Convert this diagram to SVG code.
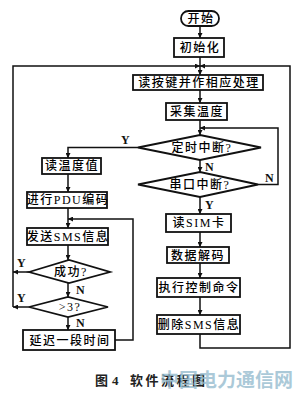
<svg xmlns="http://www.w3.org/2000/svg" width="300" height="397" viewBox="0 0 300 397">
<defs>
<marker id="a" viewBox="0 0 10 10" refX="10" refY="5" markerWidth="5" markerHeight="5" orient="auto" markerUnits="userSpaceOnUse">
<path d="M0,0 L10,5 L0,10 z" fill="#111"/>
</marker>
<style>
.b{fill:#fff;stroke:#111;stroke-width:1.8}
.t{font-family:"Liberation Serif","Noto Sans CJK SC",serif;font-size:12px;font-weight:500;letter-spacing:1.5px;text-anchor:middle;fill:#000}
.l{font-family:"Liberation Serif",serif;font-size:12px;font-weight:bold;fill:#111}
.c{fill:none;stroke:#111;stroke-width:1.5}
.ar{marker-end:url(#a)}
.cap{font-family:"Liberation Serif","Noto Sans CJK SC",serif;font-size:13px;font-weight:bold;fill:#222}
</style>
</defs>
<rect width="300" height="397" fill="#fff"/>
<g id="connectors">
<path class="c ar" d="M200,26 V38"/>
<path class="c" d="M200,57 V66"/>
<path class="c ar" d="M200,66 V75"/>
<path class="c ar" d="M13,307 V66 H200"/>
<path class="c ar" d="M200,334 V348 H290 V66 H200"/>
<path class="c ar" d="M200,90 V103"/>
<path class="c ar" d="M200,120 V135"/>
<path class="c ar" d="M258,184.5 H278 V128 H200"/>
<path class="c ar" d="M200,160 V172"/>
<path class="c ar" d="M200,197 V214"/>
<path class="c ar" d="M200,232 V247"/>
<path class="c ar" d="M200,263 V278"/>
<path class="c ar" d="M200,297 V315"/>
<path class="c ar" d="M138,147.5 H68 V158"/>
<path class="c ar" d="M68,174 V192"/>
<path class="c ar" d="M68,208 V228"/>
<path class="c ar" d="M115,340 H133 V219 H68"/>
<path class="c ar" d="M68,245 V260"/>
<path class="c ar" d="M29,272 H13"/>
<path class="c ar" d="M68,283 V297"/>
<path class="c ar" d="M29,307 H13"/>
<path class="c ar" d="M68,317 V330"/>
<text class="l" x="121" y="144">Y</text>
<text class="l" x="205" y="171">N</text>
<text class="l" x="265" y="182">N</text>
<text class="l" x="205" y="209">Y</text>
<text class="l" x="17" y="267">Y</text>
<text class="l" x="76" y="294">N</text>
<text class="l" x="17" y="302">Y</text>
<text class="l" x="76" y="327">N</text>
</g>
<g id="start"><rect class="b" x="181" y="11" width="38" height="15" rx="7.5"/><text class="t" x="201" y="23">开始</text></g>
<g id="init"><rect class="b" x="174" y="38" width="50" height="19"/><text class="t" x="200" y="52">初始化</text></g>
<g id="readkey"><rect class="b" x="133" y="75" width="130" height="15"/><text class="t" x="199" y="87">读按键并作相应处理</text></g>
<g id="sample"><rect class="b" x="166" y="103" width="61" height="17"/><text class="t" x="197" y="116">采集温度</text></g>
<g id="timer"><path class="b" d="M138,147.5 L200,135 L261,147.5 L200,160 Z"/><text class="t" x="202" y="152">定时中断?</text></g>
<g id="serial"><path class="b" d="M138,184.5 L200,172 L258,184.5 L200,197 Z"/><text class="t" x="200" y="189">串口中断?</text></g>
<g id="readsim"><rect class="b" x="166" y="214" width="65" height="18"/><text class="t" x="199" y="227">读SIM卡</text></g>
<g id="decode"><rect class="b" x="167" y="247" width="62" height="16"/><text class="t" x="198" y="259.5">数据解码</text></g>
<g id="exec"><rect class="b" x="157" y="278" width="83" height="19"/><text class="t" x="199" y="292">执行控制命令</text></g>
<g id="delete"><rect class="b" x="157" y="315" width="83" height="19"/><text class="t" x="199" y="329">删除SMS信息</text></g>
<g id="readtemp"><rect class="b" x="42" y="158" width="59" height="16"/><text class="t" x="72" y="170">读温度值</text></g>
<g id="pdu"><rect class="b" x="27" y="192" width="80" height="16"/><text class="t" x="68" y="204">进行PDU编码</text></g>
<g id="send"><rect class="b" x="27" y="228" width="81" height="17"/><text class="t" x="68" y="241">发送SMS信息</text></g>
<g id="success"><path class="b" d="M29,272 L69,260 L110,272 L69,283 Z"/><text class="t" x="71" y="276">成功?</text></g>
<g id="gt3"><path class="b" d="M29,307 L68,297 L108,307 L68,317 Z"/><text class="t" x="70" y="311">&gt;3?</text></g>
<g id="delay"><rect class="b" x="23" y="330" width="92" height="20"/><text class="t" x="70" y="344.5">延迟一段时间</text></g>
<text class="cap" x="95" y="385">图<tspan x="112">4</tspan><tspan x="130" letter-spacing="2.5">软件流程图</tspan></text>
<text x="160" y="387" style="font-family:'Noto Sans CJK SC',sans-serif;font-size:19px;font-weight:bold;fill:#8fb8cc;opacity:0.75">中国电力通信网</text>
</svg>
